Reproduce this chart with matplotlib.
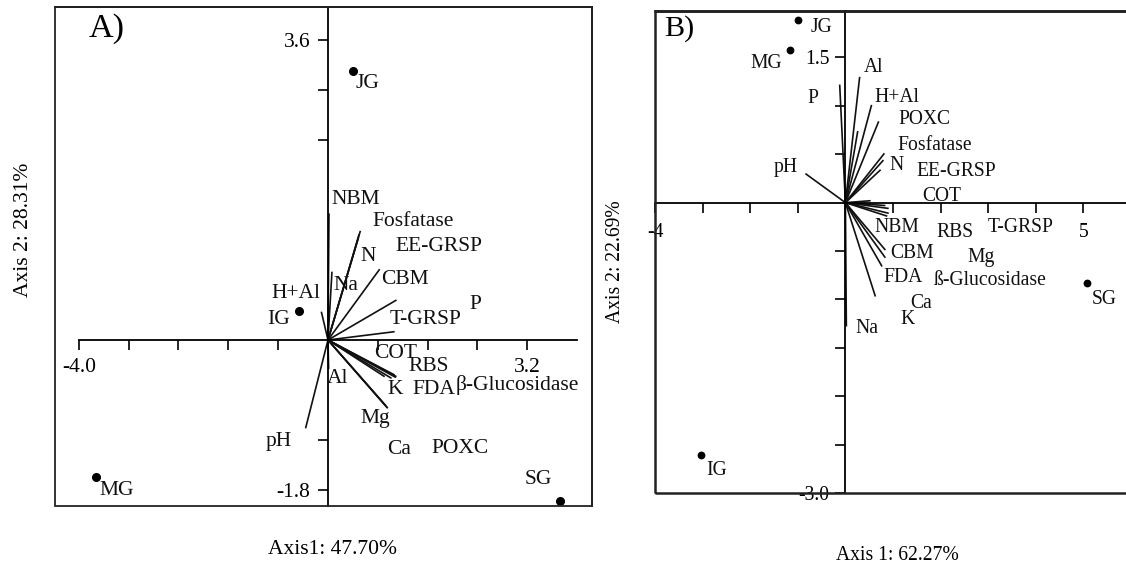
import matplotlib
matplotlib.use('Agg')
import matplotlib.pyplot as plt
from matplotlib.patches import Rectangle

plt.rcParams['font.family'] = ['Liberation Serif', 'DejaVu Serif']

W, H = 1126, 564

# ---------------- Panel A data ----------------
a_sites = ['JG', 'IG', 'MG', 'SG']
a_site_x = [0.40, -0.46, -3.73, 3.73]
a_site_y = [3.23, 0.35, -1.64, -1.93]
a_site_lx = [0.63, -0.79, -3.39, 3.37]
a_site_ly = [3.08, 0.24, -1.81, -1.68]

a_vars = ['NBM', 'Fosfatase', 'N', 'EE-GRSP', 'Na', 'CBM', 'T-GRSP', 'P', 'H+Al',
          'pH', 'Al', 'COT', 'RBS', 'K', 'FDA', 'β-Glucosidase', 'Mg', 'Ca', 'POXC']
a_vec_x = [0.016, 0.52, 0.49, 0.50, 0.064, 0.83, 1.10, 1.07, -0.107,
           -0.36, 0.01, 1.10, 1.07, 0.91, 1.02, 1.09, 0.96, 0.93, 0.95]
a_vec_y = [1.52, 1.31, 1.23, 1.27, 0.82, 0.85, 0.48, 0.10, 0.34,
           -1.06, -0.35, -0.44, -0.42, -0.44, -0.46, -0.45, -0.82, -0.79, -0.81]
a_lab_x = [0.45, 1.37, 0.64, 1.78, 0.28, 1.23, 1.56, 2.36, -0.51,
           -0.79, 0.16, 1.08, 1.61, 1.08, 1.70, 3.04, 0.76, 1.14, 2.12]
a_lab_y = [1.68, 1.42, 1.00, 1.12, 0.65, 0.72, 0.24, 0.43, 0.56,
           -1.22, -0.46, -0.16, -0.32, -0.60, -0.60, -0.54, -0.94, -1.32, -1.30]

a_xticks = [-4.0, -3.2, -2.4, -1.6, -0.8, 0.8, 1.6, 2.4, 3.2]
a_xticklabels = ['-4.0', '', '', '', '', '', '', '', '3.2']
a_yticks = [3.6, 3.0, 2.4, -1.2, -1.8]
a_yticklabels = ['3.6', '', '', '', '-1.8']

# ---------------- Panel B data ----------------
b_sites = ['JG', 'MG', 'IG', 'SG']
b_site_x = [-0.99, -1.17, -3.03, 5.08]
b_site_y = [1.89, 1.58, -2.61, -0.83]
b_site_lx = [-0.50, -1.66, -2.71, 5.44]
b_site_ly = [1.81, 1.44, -2.77, -1.00]

b_vars = ['Al', 'P', 'H+Al', 'POXC', 'Fosfatase', 'pH', 'N', 'EE-GRSP', 'COT',
          'NBM', 'RBS', 'T-GRSP', 'CBM', 'Mg', 'FDA', 'ß-Glucosidase', 'Ca', 'K', 'Na']
b_vec_x = [0.30, -0.12, 0.55, 0.70, 0.82, -0.84, 0.80, 0.74, 0.53,
           0.91, 0.91, 0.88, 0.84, 0.84, 0.84, 0.77, 0.63, 0.26, 0.02]
b_vec_y = [1.30, 1.22, 1.01, 0.84, 0.51, 0.30, 0.44, 0.34, 0.02,
           -0.06, -0.11, -0.14, -0.49, -0.03, -0.57, -0.66, -0.97, 0.74, -1.28]
b_lab_x = [0.59, -0.69, 1.09, 1.66, 1.87, -1.26, 1.07, 2.33, 2.02,
           1.07, 2.31, 3.68, 1.39, 2.86, 1.22, 3.05, 1.60, 1.30, 0.46]
b_lab_y = [1.40, 1.08, 1.09, 0.86, 0.59, 0.36, 0.38, 0.32, 0.06,
           -0.26, -0.31, -0.26, -0.53, -0.57, -0.77, -0.80, -1.04, -1.21, -1.30]

b_xticks = [-4, -3, -2, -1, 1, 2, 3, 4, 5]
b_xticklabels = ['-4', '', '', '', '', '', '', '', '5']
b_yticks = [1.5, 1.0, 0.5, -0.5, -1.0, -1.5, -2.0, -2.5, -3.0]
b_yticklabels = ['1.5', '', '', '', '', '', '', '', '-3.0']

fig = plt.figure(figsize=(W / 100, H / 100), dpi=100)


def rect(l, t, r, b):
    return [l / W, 1 - b / H, (r - l) / W, (b - t) / H]


def fx(px):
    return px / W


def fy(py):
    return 1 - py / H


def setup(ax, xlim, ylim, xticks, xtl, yticks, ytl, fs, xpad, ypad, box_lw,
          xbounds=None):
    ax.set_xlim(*xlim)
    ax.set_ylim(*ylim)
    ax.spines['left'].set_position(('data', 0))
    ax.spines['bottom'].set_position(('data', 0))
    for s in ['left', 'bottom']:
        ax.spines[s].set_linewidth(1.3)
    for s in ['top', 'right']:
        ax.spines[s].set_linewidth(box_lw)
    if xbounds is not None:
        ax.spines['bottom'].set_bounds(*xbounds)
    ax.add_patch(Rectangle((0, 0), 1, 1, transform=ax.transAxes, fill=False,
                           lw=box_lw, ec='#222222', clip_on=False, zorder=5))
    ax.set_xticks(xticks)
    ax.set_xticklabels(xtl)
    ax.set_yticks(yticks)
    ax.set_yticklabels(ytl)
    ax.tick_params(axis='x', direction='out', length=7, width=1.2,
                   labelsize=fs, pad=xpad, top=False)
    ax.tick_params(axis='y', direction='out', length=7, width=1.2,
                   labelsize=fs, pad=ypad, right=False)
    ax.set_facecolor('white')


# ---------------- Panel A ----------------
fsA = 15.5
axA = fig.add_axes(rect(55, 7, 592, 506))
setup(axA, (-4.382, 4.238), (-1.992, 3.996), a_xticks, a_xticklabels,
      a_yticks, a_yticklabels, fsA, 6, 5.5, 1.3, xbounds=(-4.0, 4.0))
for vx, vy in zip(a_vec_x, a_vec_y):
    axA.plot([0, vx], [0, vy], color='#111111', lw=1.2, solid_capstyle='butt')
for name, lx, ly in zip(a_vars, a_lab_x, a_lab_y):
    axA.text(lx, ly, name, fontsize=fsA, ha='center', va='center', color='#111111')
axA.plot(a_site_x, a_site_y, 'o', color='black', ms=5.5, ls='none')
for name, lx, ly in zip(a_sites, a_site_lx, a_site_ly):
    axA.text(lx, ly, name, fontsize=fsA, ha='center', va='center', color='#111111')

fig.text(fx(107), fy(29), 'A)', fontsize=24.5, ha='center', va='center')
fig.text(fx(332), fy(550), 'Axis1: 47.70%', fontsize=fsA, ha='center', va='center')
fig.text(fx(24), fy(230), 'Axis 2: 28.31%', fontsize=fsA, ha='center',
         va='center', rotation=90)

# ---------------- Panel B ----------------
fsB = 14.1
axB = fig.add_axes(rect(655, 11, 655 + 10.2 * 47.6, 493))
setup(axB, (-4.0, 6.2), (-3.0, 1.98), b_xticks, b_xticklabels,
      b_yticks, b_yticklabels, fsB, 8, 4.3, 1.8)
for vx, vy in zip(b_vec_x, b_vec_y):
    axB.plot([0, vx], [0, vy], color='#111111', lw=1.2, solid_capstyle='butt')
for name, lx, ly in zip(b_vars, b_lab_x, b_lab_y):
    axB.text(lx, ly, name, fontsize=fsB, ha='center', va='center', color='#111111')
axB.plot(b_site_x, b_site_y, 'o', color='black', ms=4.6, ls='none')
for name, lx, ly in zip(b_sites, b_site_lx, b_site_ly):
    axB.text(lx, ly, name, fontsize=fsB, ha='center', va='center', color='#111111')

fig.text(fx(679), fy(29), 'B)', fontsize=21.7, ha='center', va='center')
fig.text(fx(897), fy(555), 'Axis 1: 62.27%', fontsize=fsB, ha='center', va='center')
fig.text(fx(615), fy(262), 'Axis 2: 22.69%', fontsize=fsB, ha='center',
         va='center', rotation=90)

fig.savefig('out.png', dpi=100, facecolor='white')
